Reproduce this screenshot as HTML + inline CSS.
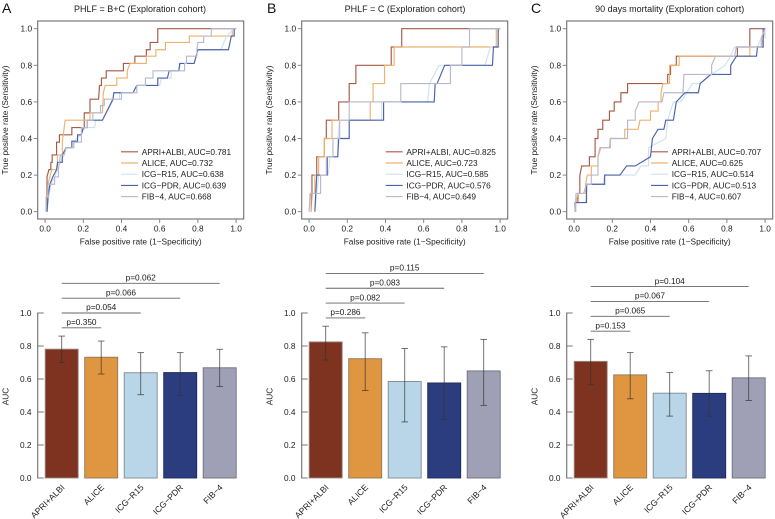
<!DOCTYPE html>
<html lang="en">
<head>
<meta charset="utf-8">
<title>AUC comparison charts</title>
<style>
html,body{margin:0;padding:0;background:#fff;width:775px;height:519px;overflow:hidden}
svg{display:block;filter:blur(0.3px)}
text{font-family:"Liberation Sans",Arial,sans-serif;font-size:8.3px;fill:#1c1c1c}
.letter{font-size:14px;fill:#111}
.ttl{font-size:9px;text-anchor:middle}
</style>
</head>
<body>
<svg id="chart" width="775" height="519" viewBox="0 0 775 519" xmlns="http://www.w3.org/2000/svg">
  <rect x="0" y="0" width="775" height="519" fill="#fff"/>
  <text class="letter" x="2" y="13">A</text>
  <text class="letter" x="267" y="13">B</text>
  <text class="letter" x="531" y="13">C</text>
  <text class="ttl" x="140" y="12">PHLF = B+C (Exploration cohort)</text>
  <text class="ttl" x="405" y="12">PHLF = C (Exploration cohort)</text>
  <text class="ttl" x="669.7" y="12">90 days mortality (Exploration cohort)</text>
</svg>
<script>
// Shared categories and ticks
const seriesNames = ['APRI+ALBI', 'ALICE', 'ICG\u2212R15', 'ICG\u2212PDR', 'FIB\u22124'];
const tickLabels = ['0.0', '0.2', '0.4', '0.6', '0.8', '1.0'];
const tickValues = [0, 0.2, 0.4, 0.6, 0.8, 1];

// AUC values (bars and legends)
const aucA = [0.781, 0.732, 0.638, 0.639, 0.668];
const aucB = [0.825, 0.723, 0.585, 0.576, 0.649];
const aucC = [0.707, 0.625, 0.514, 0.513, 0.607];

// Error bar limits
const lowA = [0.70, 0.63, 0.505, 0.50, 0.555];
const highA = [0.86, 0.83, 0.76, 0.76, 0.78];
const lowB = [0.715, 0.53, 0.34, 0.355, 0.44];
const highB = [0.92, 0.88, 0.785, 0.795, 0.84];
const lowC = [0.565, 0.48, 0.375, 0.375, 0.47];
const highC = [0.84, 0.76, 0.64, 0.65, 0.74];

// p-values for APRI+ALBI vs. each other method
const pA = ['p=0.350', 'p=0.054', 'p=0.066', 'p=0.062'];
const pB = ['p=0.286', 'p=0.082', 'p=0.083', 'p=0.115'];
const pC = ['p=0.153', 'p=0.065', 'p=0.067', 'p=0.104'];

// ROC curves: [false positive rate, true positive rate]
const rocA_apri = [[.01,0],[.01,.19],[.02,.23],[.03,.23],[.03,.27],[.037,.27],[.037,.31],[.06,.31],[.06,.38],[.075,.38],[.075,.42],[.14,.42],[.14,.46],[.205,.46],[.205,.54],[.235,.54],[.235,.615],[.28,.615],[.285,.69],[.295,.69],[.295,.73],[.32,.73],[.32,.77],[.41,.77],[.41,.81],[.47,.81],[.47,.85],[.53,.85],[.53,.885],[.55,.885],[.55,.925],[.59,.925],[.59,1],[.87,1],[1,1]];
const rocA_alice = [[.01,0],[.015,.15],[.035,.23],[.065,.23],[.065,.31],[.09,.31],[.09,.38],[.095,.42],[.1,.46],[.105,.5],[.235,.5],[.235,.54],[.3,.54],[.305,.65],[.315,.69],[.375,.69],[.375,.73],[.43,.73],[.43,.77],[.445,.81],[.53,.81],[.53,.85],[.58,.85],[.58,.885],[.63,.885],[.63,.925],[.755,.925],[.755,.96],[.98,.96],[.98,1],[1,1]];
const rocA_r15 = [[.01,0],[.02,.08],[.03,.15],[.05,.19],[.08,.27],[.1,.31],[.11,.35],[.15,.35],[.15,.385],[.185,.42],[.21,.46],[.26,.46],[.265,.5],[.3,.5],[.36,.615],[.39,.615],[.39,.65],[.46,.65],[.48,.69],[.6,.69],[.61,.73],[.66,.73],[.66,.77],[.7,.77],[.71,.81],[.78,.81],[.8,.885],[.92,.885],[.95,.96],[.99,1],[1,1]];
const rocA_pdr = [[.01,0],[.015,.08],[.025,.15],[.04,.19],[.06,.23],[.065,.27],[.09,.27],[.09,.31],[.11,.35],[.14,.35],[.14,.385],[.17,.385],[.17,.42],[.19,.42],[.2,.46],[.22,.46],[.22,.5],[.3,.5],[.355,.615],[.36,.65],[.46,.65],[.48,.69],[.59,.69],[.59,.73],[.64,.73],[.65,.77],[.7,.77],[.705,.81],[.78,.81],[.8,.885],[.96,.885],[.975,.96],[.99,.96],[.99,1],[1,1]];
const rocA_fib = [[.005,0],[.005,.08],[.015,.08],[.015,.15],[.05,.15],[.05,.19],[.07,.19],[.07,.23],[.08,.31],[.1,.31],[.11,.35],[.15,.35],[.15,.38],[.19,.38],[.19,.46],[.22,.46],[.22,.5],[.25,.5],[.25,.54],[.29,.54],[.29,.58],[.31,.58],[.31,.615],[.4,.615],[.4,.65],[.48,.65],[.48,.69],[.525,.69],[.525,.73],[.565,.73],[.565,.77],[.73,.77],[.73,.81],[.74,.81],[.74,.85],[.795,.85],[.795,.885],[.8,.925],[.83,.925],[.83,.96],[.87,.96],[.87,1],[1,1]];

const rocB_apri = [[.01,0],[.015,.1],[.015,.2],[.04,.2],[.04,.3],[.08,.3],[.08,.4],[.09,.4],[.09,.5],[.155,.5],[.155,.6],[.21,.6],[.21,.7],[.245,.7],[.245,.8],[.43,.8],[.43,.9],[.485,.9],[.485,1],[.84,1],[1,1]];
const rocB_alice = [[.01,0],[.01,.1],[.03,.1],[.03,.2],[.05,.2],[.05,.3],[.08,.3],[.08,.4],[.12,.4],[.12,.5],[.32,.5],[.32,.6],[.335,.6],[.335,.7],[.395,.7],[.395,.8],[.445,.8],[.445,.9],[.98,.9],[.98,1],[1,1]];
const rocB_r15 = [[.03,0],[.04,.1],[.05,.2],[.1,.2],[.11,.3],[.15,.3],[.15,.4],[.16,.5],[.38,.5],[.38,.6],[.62,.6],[.63,.7],[.68,.8],[.92,.8],[.95,.9],[.99,.9],[.99,1],[1,1]];
const rocB_pdr = [[.03,0],[.035,.1],[.04,.2],[.095,.2],[.095,.3],[.15,.3],[.155,.4],[.21,.4],[.21,.5],[.39,.5],[.39,.6],[.655,.6],[.66,.7],[.67,.7],[.71,.8],[.96,.8],[.965,.9],[.99,.9],[.99,1],[1,1]];
const rocB_fib = [[0,0],[.005,.1],[.06,.1],[.06,.2],[.09,.2],[.09,.3],[.125,.3],[.125,.4],[.16,.4],[.16,.5],[.21,.5],[.21,.6],[.48,.6],[.48,.7],[.74,.7],[.74,.8],[.8,.8],[.8,.9],[.84,.9],[.84,1],[1,1]];

const rocC_apri = [[.005,0],[.005,.05],[.02,.05],[.02,.1],[.03,.1],[.03,.2],[.04,.25],[.08,.25],[.08,.3],[.11,.3],[.11,.4],[.125,.4],[.125,.45],[.15,.45],[.15,.5],[.185,.5],[.185,.55],[.21,.55],[.21,.6],[.245,.6],[.245,.65],[.28,.65],[.28,.7],[.49,.7],[.49,.75],[.505,.75],[.505,.8],[.535,.8],[.535,.85],[.855,.85],[.855,.9],[.92,.9],[.92,1],[1,1]];
const rocC_alice = [[.01,0],[.01,.05],[.02,.1],[.06,.1],[.06,.15],[.07,.2],[.09,.2],[.09,.25],[.125,.25],[.125,.3],[.135,.35],[.185,.35],[.19,.4],[.265,.4],[.265,.45],[.335,.45],[.345,.5],[.4,.5],[.4,.55],[.44,.55],[.44,.6],[.455,.6],[.455,.65],[.465,.7],[.5,.7],[.5,.8],[.55,.8],[.55,.85],[.92,.85],[.92,.9],[.98,.9],[1,1]];
const rocC_r15 = [[.01,0],[.01,.05],[.06,.05],[.07,.15],[.15,.15],[.16,.2],[.32,.2],[.35,.25],[.39,.25],[.39,.35],[.48,.4],[.49,.5],[.52,.6],[.56,.6],[.62,.7],[.66,.7],[.72,.75],[.79,.8],[.82,.85],[.84,.9],[.96,.9],[.98,.95],[1,.95],[1,1]];
const rocC_pdr = [[.005,0],[.005,.05],[.065,.05],[.065,.15],[.16,.15],[.16,.2],[.24,.2],[.275,.25],[.32,.25],[.4,.3],[.41,.4],[.44,.45],[.47,.45],[.48,.5],[.52,.5],[.535,.6],[.58,.65],[.65,.65],[.66,.7],[.715,.75],[.82,.75],[.82,.8],[.85,.85],[.955,.85],[.96,.9],[.99,.9],[.99,1],[1,1]];
const rocC_fib = [[.005,0],[.01,.1],[.05,.1],[.065,.15],[.09,.15],[.09,.2],[.125,.2],[.125,.3],[.14,.35],[.19,.35],[.19,.4],[.28,.4],[.28,.5],[.32,.5],[.32,.55],[.34,.6],[.46,.6],[.47,.65],[.57,.65],[.575,.75],[.72,.75],[.72,.8],[.74,.85],[.84,.85],[.85,.9],[.98,.9],[.98,.95],[1,1]];

const svg = document.getElementById('chart');
const NS = 'http://www.w3.org/2000/svg';
const lineColors = ['#a65a48', '#eeb26e', '#cfe2f0', '#4a62a8', '#b9b9cd'];
const barColors = ['#7e3320', '#e09540', '#b8d6e8', '#2c3d7f', '#9fa0b6'];
const barEdges = ['#9a8a84', '#8a7a60', '#7f8a90', '#1c2a5a', '#6e6e7e'];

function shape(tag, props, text) {
  const el = document.createElementNS(NS, tag);
  for (const k in props) el.setAttribute(k, props[k]);
  if (text !== undefined) el.textContent = text;
  svg.appendChild(el);
  return el;
}
function lineEl(x1, y1, x2, y2, color, width) {
  return shape('line', {x1: x1, y1: y1, x2: x2, y2: y2, stroke: color, 'stroke-width': width});
}

function drawRoc(left, panel, curves, auc, legendLeft) {
  const xScale = v => left + 7.4 + v * 191;
  const yScale = v => 211.7 - v * 183;
  const frame = shape('rect', {x: left, y: 21, width: 206, height: 198, fill: 'none', stroke: '#7a7a7a', 'stroke-width': 1.2});
  
  

  tickValues.forEach((v, i) => {
    const xt = lineEl(xScale(v), 219, xScale(v), 223, '#7a7a7a', 0.9);
    
    
    const yt = lineEl(left - 4, yScale(v), left, yScale(v), '#7a7a7a', 0.9);
    
    
    const xl = shape('text', {x: xScale(v), y: 231.5, 'text-anchor': 'middle'}, tickLabels[i]);
    
    
    const yl = shape('text', {x: left - 5.6, y: yScale(v) + 3, 'text-anchor': 'end'}, tickLabels[i]);
    
    
  });

  const xTitle = shape('text', {x: left + 103, y: 244.7, 'text-anchor': 'middle'}, 'False positive rate (1\u2212Specificity)');
  
  
  const yTitle = shape('text', {transform: 'translate(' + (left - 29.7) + ',120) rotate(-90)', 'text-anchor': 'middle'}, 'True positive rate (Sensitivity)');
  
  

  curves.forEach((curve, i) => {
    const pts = curve.map(p => xScale(p[0]).toFixed(2) + ',' + yScale(p[1]).toFixed(2)).join(' ');
    const poly = shape('polyline', {points: pts, fill: 'none', stroke: lineColors[i], 'stroke-width': 1.15, 'stroke-linejoin': 'miter'});
    
    
  });

  seriesNames.forEach((name, i) => {
    const yRow = 151.8 + i * 11.2;
    const sw = lineEl(legendLeft, yRow, legendLeft + 17, yRow, lineColors[i], 1.15);
    
    
    const lab = shape('text', {x: legendLeft + 20.7, y: yRow + 3}, name + ', AUC=' + auc[i].toFixed(3));
    
    
  });
}

function drawBars(left, panel, values, low, high, pLabels) {
  const yScale = v => 478 - v * 165;
  const barLeft = i => left + 7.5 + i * 39.5;
  const barMid = i => barLeft(i) + 16.5;

  const axis = lineEl(left, yScale(0), left, yScale(1), '#7a7a7a', 1.2);
  
  
  tickValues.forEach((v, i) => {
    const t = lineEl(left - 0.6, yScale(v), left + 6, yScale(v), '#7a7a7a', 1);
    
    
    const l = shape('text', {x: left - 6.2, y: yScale(v) + 3, 'text-anchor': 'end'}, tickLabels[i]);
    
    
  });
  const yTitle = shape('text', {transform: 'translate(' + (left - 29.2) + ',396.5) rotate(-90)', 'text-anchor': 'middle'}, 'AUC');
  
  

  values.forEach((v, i) => {
    const bar = shape('rect', {x: barLeft(i), y: yScale(v), width: 33, height: yScale(0) - yScale(v), fill: barColors[i], stroke: barEdges[i], 'stroke-width': 0.9});
    
    
    const ev = lineEl(barMid(i), yScale(low[i]), barMid(i), yScale(high[i]), '#333', 0.9);
    ev.setAttribute('stroke-opacity', '0.75');
    
    
    const capLow = lineEl(barMid(i) - 3.3, yScale(low[i]), barMid(i) + 3.3, yScale(low[i]), '#333', 0.9);
    capLow.setAttribute('stroke-opacity', '0.75');
    
    
    const capHigh = lineEl(barMid(i) - 3.3, yScale(high[i]), barMid(i) + 3.3, yScale(high[i]), '#333', 0.9);
    capHigh.setAttribute('stroke-opacity', '0.75');
    
    
    const cat = shape('text', {transform: 'translate(' + (barMid(i) + 3.5) + ',488) rotate(-45)', 'text-anchor': 'end', 'font-size': '8.6', style: 'font-size:8.6px'}, seriesNames[i]);
    
    
  });

  pLabels.forEach((p, i) => {
    const level = high[0] + 0.05 + i * 0.09;
    const br = lineEl(barMid(0), yScale(level), barMid(i + 1), yScale(level), '#666', 0.9);
    
    
    const t = shape('text', {x: (barMid(0) + barMid(i + 1)) / 2, y: yScale(level) - 2.8, 'text-anchor': 'middle'}, p);
    
    
  });
}

drawRoc(37.7, 'a', [rocA_apri, rocA_alice, rocA_r15, rocA_pdr, rocA_fib], aucA, 121);
drawRoc(301.7, 'b', [rocB_apri, rocB_alice, rocB_r15, rocB_pdr, rocB_fib], aucB, 385.7);
drawRoc(566.7, 'c', [rocC_apri, rocC_alice, rocC_r15, rocC_pdr, rocC_fib], aucC, 651);
drawBars(37.7, 'a', aucA, lowA, highA, pA);
drawBars(301.7, 'b', aucB, lowB, highB, pB);
drawBars(566.7, 'c', aucC, lowC, highC, pC);
</script>
</body>
</html>
